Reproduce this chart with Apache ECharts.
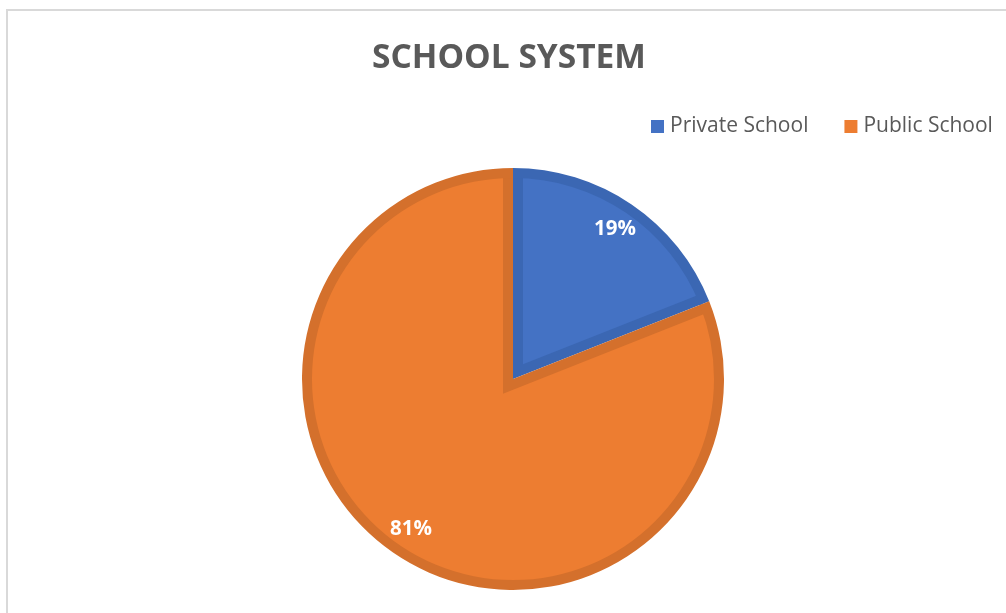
<!DOCTYPE html>
<html>
<head>
<meta charset="utf-8">
<script src="https://cdn.jsdelivr.net/npm/echarts@6/dist/echarts.min.js"></script>
<style>
html,body{margin:0;padding:0;background:#fff;}
#chart{width:1006px;height:613px;}
</style>
</head>
<body>
<div id="chart"></div>
<script>
const categories = ['Private School', 'Public School'];
const shares = [19, 81];
const fillColors = ['#4472C4', '#ED7D31'];
const edgeColors = ['#3B67B3', '#D4702C'];
const titleText = 'SCHOOL SYSTEM';

const CENTER = [513, 379];
const R = 211;
const EDGE = 10;

function makeData(colors, extra) {
  return categories.map((name, i) => Object.assign({
    name: name,
    value: shares[i],
    itemStyle: { color: colors[i], borderWidth: 0 }
  }, extra || {}));
}

const common = {
  type: 'pie',
  center: CENTER,
  startAngle: 90,
  clockwise: true,
  silent: true,
  avoidLabelOverlap: false,
  label: { show: false },
  labelLine: { show: false },
  emphasis: { disabled: true, scale: false }
};

const chart = echarts.init(document.getElementById('chart'), null, { renderer: 'canvas' });
chart.setOption({
  animation: false,
  backgroundColor: '#ffffff',
  title: {
    text: titleText,
    left: 367,
    top: 36,
    textStyle: { fontFamily: 'Open Sans', fontWeight: 'bold', fontSize: 33.5, color: '#595959' }
  },
  legend: {
    data: categories,
    left: 646,
    top: 111,
    icon: 'rect',
    itemWidth: 13,
    itemHeight: 13,
    itemGap: 36,
    textStyle: { fontFamily: 'Open Sans', fontSize: 21, color: '#595959', padding: [0, 0, 0, 1] },
    selectedMode: false
  },
  graphic: [{
    type: 'rect',
    silent: true,
    z: -10,
    shape: { x: 7, y: 10, width: 1010, height: 620 },
    style: { fill: 'none', stroke: '#D9D9D9', lineWidth: 2 }
  }],
  series: [
    Object.assign({}, common, {
      name: 'fill',
      z: 2,
      radius: [0, 232],
      selectedMode: 'multiple',
      selectedOffset: EDGE / Math.sin(Math.PI * shares[0] / 100),
      data: makeData(fillColors, { selected: true })
    }),
    Object.assign({}, common, {
      name: 'base',
      z: 1,
      radius: [0, R],
      data: makeData(edgeColors)
    }),
    Object.assign({}, common, {
      name: 'cover',
      z: 3,
      radius: [R - EDGE + 2, 252],
      data: makeData(['#ffffff', '#ffffff'])
    }),
    Object.assign({}, common, {
      name: 'rim',
      z: 4,
      radius: [R - EDGE, R],
      data: makeData(edgeColors)
    }),
    Object.assign({}, common, {
      name: 'labels',
      z: 5,
      radius: [146, R],
      label: {
        show: true,
        position: 'inside',
        formatter: p => Math.round(p.percent) + '%',
        fontFamily: 'Open Sans',
        fontWeight: 'bold',
        fontSize: 20.5,
        color: '#ffffff'
      },
      data: makeData(['rgba(0,0,0,0)', 'rgba(0,0,0,0)'])
    })
  ]
});
</script>
</body>
</html>
